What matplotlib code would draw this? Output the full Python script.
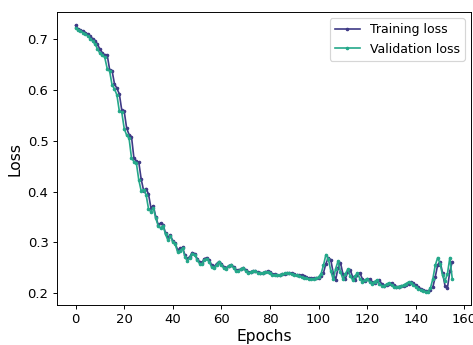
import matplotlib
matplotlib.use("Agg")
import matplotlib.pyplot as plt
import numpy as np

# loss per epoch
train_loss = [
    0.727, 0.720, 0.718, 0.716, 0.713, 0.710, 0.706, 0.701, 0.697, 0.690,
    0.680, 0.673, 0.669, 0.669, 0.640, 0.638, 0.612, 0.603, 0.592, 0.560,
    0.558, 0.525, 0.512, 0.508, 0.466, 0.460, 0.458, 0.424, 0.402, 0.406,
    0.395, 0.368, 0.372, 0.350, 0.335, 0.338, 0.335, 0.318, 0.310, 0.314,
    0.303, 0.298, 0.285, 0.288, 0.290, 0.275, 0.268, 0.272, 0.280, 0.278,
    0.268, 0.262, 0.260, 0.268, 0.270, 0.265, 0.255, 0.252, 0.258, 0.262,
    0.258, 0.252, 0.250, 0.254, 0.256, 0.252, 0.246, 0.245, 0.248, 0.250,
    0.246, 0.242, 0.242, 0.244, 0.244, 0.241, 0.240, 0.240, 0.242, 0.243,
    0.241, 0.238, 0.237, 0.236, 0.236, 0.237, 0.238, 0.239, 0.240, 0.239,
    0.237, 0.236, 0.236, 0.235, 0.233, 0.231, 0.230, 0.229, 0.229, 0.229,
    0.230, 0.233, 0.240, 0.258, 0.270, 0.266, 0.240, 0.226, 0.250, 0.260,
    0.238, 0.228, 0.242, 0.246, 0.232, 0.226, 0.236, 0.240, 0.228, 0.224,
    0.228, 0.228, 0.222, 0.220, 0.224, 0.226, 0.218, 0.215, 0.216, 0.219,
    0.220, 0.216, 0.213, 0.213, 0.214, 0.215, 0.216, 0.219, 0.222, 0.220,
    0.216, 0.212, 0.209, 0.206, 0.205, 0.204, 0.206, 0.212, 0.232, 0.256,
    0.262, 0.240, 0.215, 0.210, 0.243, 0.262,
]
val_loss = [
    0.722, 0.718, 0.716, 0.713, 0.710, 0.706, 0.701, 0.696, 0.690, 0.681,
    0.672, 0.668, 0.664, 0.642, 0.637, 0.610, 0.602, 0.590, 0.558, 0.556,
    0.524, 0.511, 0.505, 0.466, 0.459, 0.456, 0.423, 0.401, 0.404, 0.394,
    0.366, 0.360, 0.368, 0.347, 0.333, 0.328, 0.333, 0.316, 0.304, 0.312,
    0.301, 0.296, 0.281, 0.284, 0.288, 0.272, 0.264, 0.270, 0.278, 0.276,
    0.266, 0.258, 0.258, 0.266, 0.268, 0.262, 0.251, 0.249, 0.256, 0.262,
    0.256, 0.249, 0.248, 0.254, 0.255, 0.250, 0.244, 0.243, 0.247, 0.249,
    0.244, 0.240, 0.241, 0.244, 0.243, 0.240, 0.239, 0.240, 0.242, 0.242,
    0.239, 0.236, 0.235, 0.235, 0.236, 0.237, 0.239, 0.240, 0.239, 0.238,
    0.236, 0.235, 0.234, 0.232, 0.230, 0.229, 0.228, 0.228, 0.228, 0.229,
    0.232, 0.238, 0.255, 0.276, 0.268, 0.244, 0.227, 0.248, 0.263, 0.242,
    0.228, 0.238, 0.247, 0.234, 0.226, 0.234, 0.240, 0.228, 0.223, 0.226,
    0.228, 0.222, 0.219, 0.223, 0.226, 0.219, 0.214, 0.215, 0.218, 0.220,
    0.216, 0.212, 0.212, 0.213, 0.214, 0.216, 0.219, 0.222, 0.220, 0.216,
    0.212, 0.209, 0.206, 0.205, 0.203, 0.203, 0.210, 0.228, 0.255, 0.270,
    0.258, 0.235, 0.224, 0.238, 0.270, 0.228,
]
epochs = np.arange(len(train_loss))

dpi = 86
fig = plt.figure(figsize=(473 / dpi, 345 / dpi), dpi=dpi)
ax = fig.add_axes([0.12, 0.116, 0.876, 0.849])
ax.plot(epochs, train_loss, color='#3f3a86', marker='o', markersize=2,
        linewidth=1.4, label='Training loss')
ax.plot(epochs, val_loss, color='#25a88a', marker='o', markersize=2,
        linewidth=1.4, label='Validation loss')
ax.set_xlabel('Epochs', fontsize=13, labelpad=2)
ax.set_ylabel('Loss', fontsize=13)
ax.set_yticks([0.2, 0.3, 0.4, 0.5, 0.6, 0.7])
ax.tick_params(labelsize=11)
ax.legend(loc='upper right', fontsize=10.5)
fig.savefig('out.png', dpi=dpi)
